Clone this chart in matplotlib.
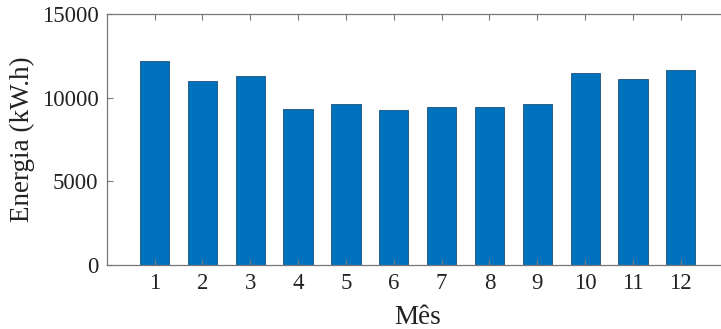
import matplotlib.pyplot as plt

# monthly energy (kW.h)
meses = [1, 2, 3, 4, 5, 6, 7, 8, 9, 10, 11, 12]
energia = [12170, 11000, 11270, 9340, 9640, 9280, 9440, 9440, 9600, 11470, 11100, 11670]

plt.rcParams['font.family'] = ['Liberation Serif', 'STIXGeneral', 'DejaVu Serif']

fig = plt.figure(figsize=(7.21, 3.29), dpi=100)
# axes box runs slightly past the right border, as in the original
ax = fig.add_axes([106.7 / 721, 1 - 265 / 329, 622 / 721, 251 / 329])

ax.bar(meses, energia, width=0.61, color='#0072BD', edgecolor='#1f4e79', linewidth=0.6)

ax.set_xlim(0, 13)
ax.set_ylim(0, 15000)
ax.set_xticks(meses)
ax.set_yticks([0, 5000, 10000, 15000])

gray = '#777777'
for s in ax.spines.values():
    s.set_color(gray)
    s.set_linewidth(0.9)
ax.tick_params(direction='in', length=4, width=0.8, color=gray,
               top=True, right=True, labelsize=16.5, labelcolor='#222222', pad=6)

ax.set_xlabel('Mês', fontsize=19.5, color='#222222', labelpad=8)
ax.set_ylabel('Energia (kW.h)', fontsize=19.5, color='#222222', labelpad=5)

fig.savefig('out.png', dpi=100)
